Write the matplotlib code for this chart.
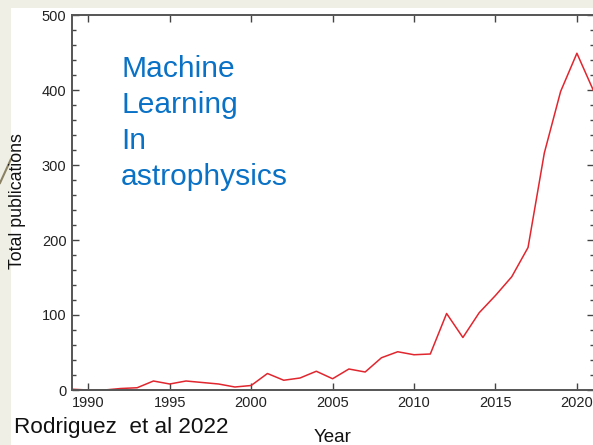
import matplotlib
matplotlib.use("Agg")
import matplotlib.pyplot as plt
from matplotlib.ticker import MultipleLocator
from matplotlib.patches import Rectangle
from matplotlib.lines import Line2D

years = [1989, 1990, 1991, 1992, 1993, 1994, 1995, 1996, 1997, 1998, 1999, 2000,
         2001, 2002, 2003, 2004, 2005, 2006, 2007, 2008, 2009, 2010, 2011, 2012,
         2013, 2014, 2015, 2016, 2017, 2018, 2019, 2020, 2021]
pubs = [1, 0, 0, 2, 3, 12, 8, 12, 10, 8, 4, 6,
        22, 13, 16, 25, 15, 28, 24, 43, 51, 47, 48, 102,
        70, 103, 126, 151, 190, 316, 398, 449, 400]
xticks = [1990, 1995, 2000, 2005, 2010, 2015, 2020]
yticks = [0, 100, 200, 300, 400, 500]

plt.rcParams['font.family'] = ['Liberation Sans', 'DejaVu Sans']

W, H = 593, 445
fig = plt.figure(figsize=(W / 100, H / 100), dpi=100)
fig.patch.set_facecolor('#efefe6')
fig.patches.append(Rectangle((11 / W, 0), 1 - 11 / W, 1 - 8 / H, transform=fig.transFigure,
                             facecolor='white', edgecolor='none', zorder=0))
fig.lines.append(Line2D([0, 11 / W], [1 - 183 / H, 1 - 159 / H], transform=fig.transFigure,
                        color='#8a8262', lw=1.5))

ax = fig.add_axes([72 / W, 1 - 390 / H, (594 - 72) / W, (390 - 15) / H])
ax.set_zorder(3)
ax.plot(years, pubs, color='#e0262e', lw=1.1, clip_on=True)
ax.set_xlim(1989, 2021.05)
ax.set_ylim(0, 500)
ax.set_xticks(xticks)
ax.set_yticks(yticks)
ax.yaxis.set_minor_locator(MultipleLocator(20))
ax.tick_params(axis='both', which='major', direction='in', labelsize=10.5, color='#444444',
               labelcolor='#222222', top=True, right=True, length=5, width=1)
ax.tick_params(axis='y', which='minor', direction='in', left=True, right=True, length=3,
               width=1, color='#444444')
ax.tick_params(axis='x', which='major', pad=4)
ax.tick_params(axis='y', which='major', pad=4)
for s in ax.spines.values():
    s.set_color('#555555')
    s.set_linewidth(1.4)

fig.text(18 / W, 1 - 201 / H, 'Total publications', rotation=90, ha='center', va='center',
         fontsize=12.8, color='#111111', zorder=5)
fig.text(333 / W, 1 - 437 / H, 'Year', ha='center', va='center', fontsize=13.5,
         color='#111111', zorder=5)
fig.text(14 / W, 1 - 428 / H, 'Rodriguez  et al 2022', ha='left', va='center', fontsize=16.2,
         color='#111111', zorder=5)
fig.text(121 / W, 1 - 55 / H, 'Machine\nLearning\nIn\nastrophysics', ha='left', va='top',
         fontsize=21.6, color='#0a72c6', linespacing=1.36, zorder=5)

fig.savefig('out.png', dpi=100, facecolor=fig.get_facecolor())
